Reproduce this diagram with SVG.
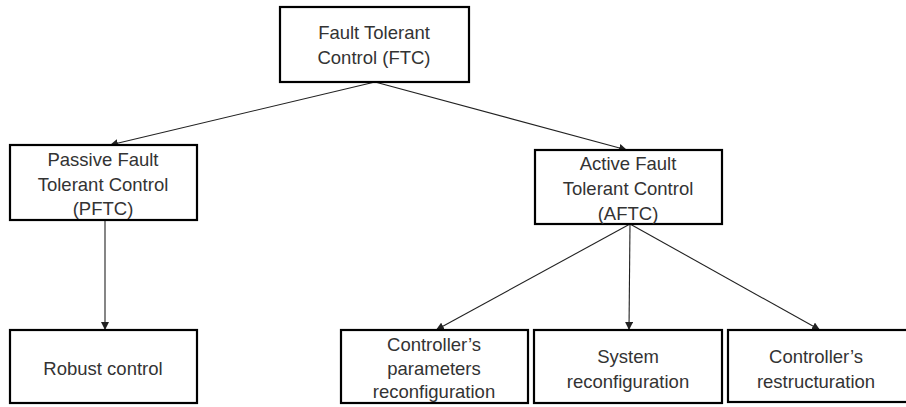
<svg xmlns="http://www.w3.org/2000/svg" width="906" height="407" viewBox="0 0 906 407">
<defs>
<marker id="ah" viewBox="0 0 10 10" refX="10" refY="5" markerWidth="8" markerHeight="8" markerUnits="userSpaceOnUse" orient="auto">
<path d="M0,0 L10,5 L0,10 z" fill="#222"/>
</marker>
<style>
.box{fill:#fff;stroke:#000;stroke-width:2.2}
.t{font-family:"Liberation Sans",Arial,sans-serif;font-size:18.5px;fill:#333;text-anchor:middle}
.c{stroke:#222;stroke-width:1.1;fill:none;marker-end:url(#ah)}
</style>
</defs>
<rect width="906" height="407" fill="#fff"/>
<g id="connectors">
<line class="c" x1="375" y1="82" x2="110" y2="145"/>
<line class="c" x1="375" y1="82" x2="627" y2="150"/>
<line class="c" x1="105" y1="220" x2="105" y2="330"/>
<line class="c" x1="630" y1="224" x2="436" y2="330"/>
<line class="c" x1="630" y1="224" x2="629" y2="330"/>
<line class="c" x1="630" y1="224" x2="820" y2="330"/>
</g>
<g id="ftc">
<rect class="box" x="280" y="7" width="189" height="75"/>
<text class="t" x="374" y="39">Fault Tolerant</text>
<text class="t" x="374" y="64">Control (FTC)</text>
</g>
<g id="pftc">
<rect class="box" x="10" y="145" width="187" height="75"/>
<text class="t" x="103" y="166">Passive Fault</text>
<text class="t" x="103" y="191">Tolerant Control</text>
<text class="t" x="103" y="215">(PFTC)</text>
</g>
<g id="aftc">
<rect class="box" x="535" y="150" width="187" height="74"/>
<text class="t" x="628" y="170">Active Fault</text>
<text class="t" x="628" y="195">Tolerant Control</text>
<text class="t" x="628" y="220">(AFTC)</text>
</g>
<g id="robust">
<rect class="box" x="10" y="330" width="187" height="73"/>
<text class="t" x="103" y="375">Robust control</text>
</g>
<g id="params">
<rect class="box" x="341" y="330" width="187" height="73"/>
<text class="t" x="434" y="351">Controller’s</text>
<text class="t" x="434" y="375">parameters</text>
<text class="t" x="434" y="398">reconfiguration</text>
</g>
<g id="sysreconf">
<rect class="box" x="534" y="330" width="188" height="73"/>
<text class="t" x="628" y="363">System</text>
<text class="t" x="628" y="388">reconfiguration</text>
</g>
<g id="restruct">
<rect class="box" x="728" y="330" width="182" height="72"/>
<text class="t" x="816" y="363">Controller’s</text>
<text class="t" x="816" y="388">restructuration</text>
</g>
</svg>
